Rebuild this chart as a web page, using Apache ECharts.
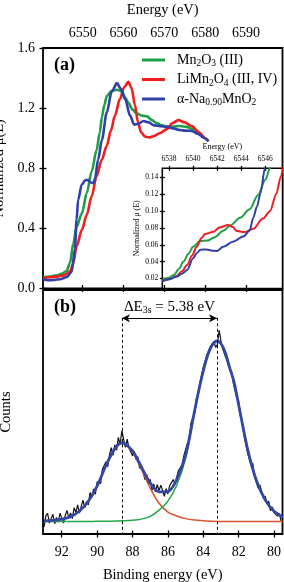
<!DOCTYPE html>
<html><head><meta charset="utf-8">
<script src="https://cdn.jsdelivr.net/npm/echarts@6/dist/echarts.min.js"></script>
<style>html,body{margin:0;padding:0;background:#fff}#c{width:284px;height:582px}</style>
</head><body><div id="c"></div>
<script>
// ---------- tick labels ----------
const xanesTicks = [6550, 6560, 6570, 6580, 6590];
const insetXTicks = [6538, 6540, 6542, 6544, 6546];
const insetYTicks = [0.02, 0.04, 0.06, 0.08, 0.10, 0.12, 0.14];
const bindingTicks = [80, 82, 84, 86, 88, 90, 92];
const seriesNames = ['Mn2O3 (III)', 'LiMn2O4 (III, IV)', 'α-Na0.90MnO2'];
const legendLabels = ['{n|Mn}{s|2}{n|O}{s|3}{n| (III)}', '{n|LiMn}{s|2}{n|O}{s|4}{n| (III, IV)}', '{n|α-Na}{s|0.90}{n|MnO}{s|2}'];

// ---------- (a) XANES, [energy eV, normalized mu(E)] ----------
const mn2o3 = [[6540.3,0.075],[6542,0.08],[6544,0.09],[6545,0.10],[6546,0.115],[6546.9,0.17],[6547.7,0.30],[6548.5,0.41],[6549.8,0.50],[6551.0,0.635],[6552.2,0.78],[6553.4,0.92],[6554.2,1.04],[6554.7,1.14],[6555.3,1.22],[6555.9,1.28],[6557.1,1.315],[6558.5,1.322],[6559.6,1.31],[6560.4,1.27],[6561.2,1.235],[6562.2,1.19],[6563.2,1.165],[6564.5,1.15],[6565.7,1.145],[6567,1.12],[6568.1,1.10],[6569.5,1.085],[6570.6,1.077],[6572,1.078],[6573.8,1.081],[6575.5,1.075],[6577,1.06],[6578.5,1.03],[6580,1.0],[6580.8,0.98]];
const limn2o4 = [[6540.3,0.07],[6542,0.075],[6544,0.08],[6545,0.085],[6546,0.095],[6546.9,0.115],[6547.7,0.168],[6548.5,0.28],[6549.8,0.39],[6551.0,0.49],[6552.2,0.613],[6553.4,0.747],[6554.7,0.858],[6555.9,0.95],[6556.9,1.05],[6557.9,1.15],[6559.1,1.26],[6560.2,1.34],[6561.2,1.375],[6562.0,1.33],[6562.8,1.22],[6563.5,1.11],[6564.3,1.04],[6565.3,1.01],[6566.3,1.005],[6567.5,1.015],[6569,1.035],[6570.6,1.06],[6572,1.10],[6573.4,1.12],[6575,1.105],[6576.7,1.08],[6578.5,1.04],[6580,1.0],[6580.8,0.98]];
const naMnO2 = [[6540.3,0.06],[6541.5,0.055],[6543,0.057],[6544.5,0.062],[6546.1,0.077],[6547.3,0.11],[6548.1,0.26],[6548.5,0.46],[6548.9,0.59],[6549.75,0.69],[6550.6,0.72],[6551.3,0.722],[6552.0,0.705],[6552.6,0.70],[6553.0,0.73],[6553.8,0.86],[6554.7,0.99],[6555.9,1.17],[6557.1,1.31],[6558.4,1.366],[6559.3,1.33],[6560.4,1.26],[6561.6,1.15],[6562.6,1.09],[6563.5,1.095],[6564.9,1.114],[6566.2,1.105],[6567.5,1.085],[6569,1.08],[6570.6,1.075],[6572.2,1.065],[6573.8,1.054],[6575.2,1.05],[6576.7,1.048],[6578.2,1.03],[6579.6,1.003],[6580.8,0.98]];

// ---------- inset pre-edge ----------
const mn2o3Inset = [[6537.45,0.019],[6538.0,0.021],[6538.4,0.024],[6538.8,0.031],[6539.2,0.040],[6539.6,0.049],[6540.0,0.0575],[6540.6,0.0645],[6541.2,0.065],[6541.8,0.069],[6542.5,0.0765],[6543.1,0.083],[6543.9,0.092],[6544.7,0.102],[6545.4,0.119],[6546.0,0.137],[6546.4,0.151],[6546.6,0.16]];
const limn2o4Inset = [[6537.45,0.017],[6538.0,0.019],[6538.6,0.0227],[6539.1,0.029],[6539.5,0.036],[6539.9,0.047],[6540.3,0.0575],[6540.7,0.068],[6541.0,0.0727],[6541.7,0.0755],[6542.2,0.0806],[6542.9,0.0833],[6543.3,0.081],[6543.6,0.0766],[6544.0,0.0755],[6544.3,0.075],[6545.0,0.079],[6545.8,0.091],[6546.4,0.10],[6546.9,0.12],[6547.3,0.141],[6547.5,0.155]];
const naMnO2Inset = [[6537.45,0.017],[6538.0,0.019],[6538.6,0.022],[6539.1,0.026],[6539.5,0.030],[6540.0,0.044],[6540.3,0.050],[6540.6,0.054],[6541.1,0.0545],[6541.6,0.053],[6541.96,0.0525],[6542.5,0.0575],[6543.3,0.0635],[6544.2,0.070],[6544.7,0.077],[6545.0,0.092],[6545.3,0.105],[6545.6,0.121],[6545.97,0.151],[6546.1,0.16]];

// ---------- (b) XPS Mn 3s, [binding energy eV, counts a.u.] ----------
const xpsRaw = [[93.0,2.9],[92.9,7.4],[92.8,8.5],[92.7,4.5],[92.6,5.0],[92.5,8.1],[92.4,4.2],[92.3,6.8],[92.2,4.9],[92.1,8.5],[92.0,6.6],[91.9,4.5],[91.8,7.7],[91.7,9.7],[91.6,6.4],[91.5,8.6],[91.4,6.3],[91.3,10.8],[91.2,8.9],[91.1,11.9],[91.0,8.6],[90.9,11.3],[90.8,13.9],[90.7,10.7],[90.6,13.3],[90.5,11.9],[90.4,17.0],[90.3,15.0],[90.2,18.5],[90.1,16.3],[90.0,21.4],[89.9,20.7],[89.8,20.7],[89.7,26.6],[89.6,26.0],[89.5,29.6],[89.4,27.6],[89.3,32.5],[89.2,35.4],[89.1,32.2],[89.0,36.5],[88.9,34.4],[88.8,39.6],[88.7,36.6],[88.6,42.4],[88.5,38.8],[88.4,35.5],[88.3,38.9],[88.2,35.2],[88.1,36.0],[88.0,32.1],[87.9,33.9],[87.8,30.6],[87.7,31.7],[87.6,27.0],[87.5,28.0],[87.4,25.6],[87.3,22.3],[87.2,24.4],[87.1,20.6],[87.0,22.4],[86.9,17.9],[86.8,20.5],[86.7,17.3],[86.6,20.2],[86.5,17.8],[86.4,20.0],[86.3,17.9],[86.2,15.4],[86.1,18.6],[86.0,16.4],[85.9,19.8],[85.8,19.3],[85.7,22.3],[85.6,20.5],[85.5,23.3],[85.4,26.0],[85.3,25.4],[85.2,28.4],[85.1,32.0],[85.0,31.7],[84.9,37.1],[84.8,38.2],[84.7,45.3],[84.6,47.5],[84.5,49.1],[84.4,55.2],[84.3,56.3],[84.2,61.6],[84.1,62.2],[84.0,68.3],[83.9,68.4],[83.8,73.4],[83.7,73.5],[83.6,76.8],[83.5,76.4],[83.4,78.9],[83.3,76.5],[83.2,77.6],[83.1,83.6],[83.0,79.0],[82.9,75.8],[82.8,75.7],[82.7,71.8],[82.6,71.9],[82.5,67.5],[82.4,66.6],[82.3,61.7],[82.2,61.2],[82.1,55.6],[82.0,54.5],[81.9,48.5],[81.8,46.6],[81.7,40.5],[81.6,40.0],[81.5,33.5],[81.4,32.7],[81.3,28.0],[81.2,29.0],[81.1,23.5],[81.0,23.0],[80.9,18.8],[80.8,20.1],[80.7,17.5],[80.6,14.5],[80.5,15.5],[80.4,12.5],[80.3,13.5],[80.2,9.5],[80.1,11.1],[80.0,8.8],[79.9,9.6],[79.8,7.3],[79.7,8.2],[79.6,5.4]];
const fitLow = [[93,5.4],[92.5,5.6],[92,6.1],[91.5,7.1],[91,9.4],[90.5,13.4],[90,19.5],[89.5,28.0],[89,34.8],[88.6,37.1],[88.5,37.0],[88,33.6],[87.5,26.5],[87,18.8],[86.5,12.6],[86,9.0],[85.5,7.4],[85,6.3],[84.5,5.7],[84,5.4],[83.5,5.25],[83,5.15],[82,5.1],[81,5.1],[80,5.1],[79.5,5.1]];
const fitHigh = [[93,5.1],[92,5.1],[91,5.1],[90.5,5.1],[90,5.2],[89.5,5.2],[89,5.3],[88.5,5.4],[88,5.6],[87.5,6.1],[87,7.2],[86.5,9.8],[86,13.5],[85.5,20],[85,31],[84.5,49.5],[84.25,58.5],[84,66.5],[83.75,73],[83.5,77.3],[83.22,79],[83,78],[82.75,74.2],[82.5,68],[82.25,62],[82,53],[81.5,35],[81,22],[80.5,14],[80,9.3],[79.5,7.0]];
const fitEnvelope = [[93,5.4],[92.5,5.6],[92,6.1],[91.5,7.1],[91,9.4],[90.5,13.4],[90,19.6],[89.5,28.1],[89,35.0],[88.6,37.4],[88.5,37.3],[88,34.1],[87.5,27.5],[87,20.9],[86.5,17.3],[86,17.4],[85.5,22.3],[85,32.2],[84.5,50.1],[84.25,59.0],[84,66.8],[83.75,73.2],[83.5,77.4],[83.22,79.1],[83,78.05],[82.75,74.25],[82.5,68],[82.25,62],[82,53],[81.5,35],[81,22],[80.5,14],[80,9.3],[79.5,7.0]];
const splitPeaks = [88.6, 83.22];

const F = 'Liberation Serif';
const chart = echarts.init(document.getElementById('c'), null, {renderer: 'canvas'});

function frameAxis(extra) {
  return Object.assign({
    type: 'value', axisLine: {show: false}, splitLine: {show: false},
    axisTick: {show: false}, axisLabel: {show: false}
  }, extra);
}
const tickOut = (vals) => ({show: true, inside: false, length: 3.5, lineStyle: {color: '#000', width: 1.3}, customValues: vals});
const tickIn = (vals) => ({show: true, inside: true, length: 3.5, lineStyle: {color: '#000', width: 1.3}, customValues: vals});
const lab = (vals, size, margin, fmt) => ({show: true, customValues: vals, fontFamily: F, fontSize: size, color: '#000', margin: margin, formatter: fmt});
const gridBase = {show: true, borderColor: '#000', containLabel: false, outerBoundsMode: 'none'};

const option = {
  animation: false,
  backgroundColor: '#fff',
  grid: [
    Object.assign({left: 43, top: 48, width: 239.5, height: 240.5, borderWidth: 1.8, backgroundColor: 'transparent'}, gridBase),
    Object.assign({left: 43, top: 290, width: 239.5, height: 244, borderWidth: 1.8, backgroundColor: 'transparent'}, gridBase),
    Object.assign({left: 162.3, top: 168.3, width: 120.2, height: 120.2, borderWidth: 1.5, backgroundColor: '#fff'}, gridBase)
  ],
  xAxis: [
    frameAxis({gridIndex: 0, position: 'top', min: 6540.28, max: 6598.94, axisTick: tickOut(xanesTicks), axisLabel: lab(xanesTicks, 14, 8, v => String(v)),
      name: 'Energy (eV)', nameLocation: 'middle', nameGap: 30, nameTextStyle: {fontFamily: F, fontSize: 14.5, color: '#000'}}),
    frameAxis({gridIndex: 0, position: 'top', min: 6540.28, max: 6598.94, axisTick: tickIn(xanesTicks)}),
    frameAxis({gridIndex: 1, position: 'bottom', inverse: true, min: 79.52, max: 93.06, axisTick: tickOut(bindingTicks), axisLabel: lab(bindingTicks, 14, 11, v => String(v)),
      name: 'Binding energy (eV)', nameLocation: 'middle', nameGap: 33.5, nameTextStyle: {fontFamily: F, fontSize: 14.5, color: '#000'}}),
    frameAxis({gridIndex: 1, position: 'bottom', inverse: true, min: 79.52, max: 93.06, axisTick: tickIn(bindingTicks)}),
    frameAxis({gridIndex: 2, position: 'top', min: 6537.44, max: 6547.43, axisTick: Object.assign(tickOut(insetXTicks), {length: 2.5}), axisLabel: lab(insetXTicks, 7.5, 5, v => String(v)),
      name: 'Energy (eV)', nameLocation: 'middle', nameGap: 17, nameTextStyle: {fontFamily: F, fontSize: 8, color: '#000'}}),
    frameAxis({gridIndex: 2, position: 'top', min: 6537.44, max: 6547.43, axisTick: Object.assign(tickIn(insetXTicks), {length: 2.5})})
  ],
  yAxis: [
    frameAxis({gridIndex: 0, position: 'left', min: 0, max: 1.6, interval: 0.4, axisTick: {show: true, length: 3.5, lineStyle: {color: '#000', width: 1.3}},
      axisLabel: {show: true, fontFamily: F, fontSize: 14, color: '#000', margin: 8, formatter: v => v.toFixed(1)},
      name: 'Normalized μ(E)', nameLocation: 'middle', nameGap: 29, nameTextStyle: {fontFamily: F, fontSize: 14.5, color: '#000'}}),
    frameAxis({gridIndex: 0, position: 'left', min: 0, max: 1.6, interval: 0.4, axisTick: {show: true, inside: true, length: 3.5, lineStyle: {color: '#000', width: 1.3}}}),
    frameAxis({gridIndex: 1, position: 'left', min: 0, max: 100,
      name: 'Counts', nameLocation: 'middle', nameGap: 29, nameTextStyle: {fontFamily: F, fontSize: 14.5, color: '#000'}}),
    frameAxis({gridIndex: 2, position: 'left', min: 0.0081, max: 0.1507, axisTick: Object.assign(tickOut(insetYTicks), {length: 2.5}), axisLabel: lab(insetYTicks, 7.5, 4, v => v.toFixed(2)),
      name: 'Normalized μ (E)', nameLocation: 'middle', nameGap: 18, nameTextStyle: {fontFamily: F, fontSize: 8, color: '#000'}}),
    frameAxis({gridIndex: 2, position: 'left', min: 0.0081, max: 0.1507, axisTick: Object.assign(tickIn(insetYTicks), {length: 2.5})})
  ],
  legend: {
    data: seriesNames, orient: 'vertical', left: 142, top: 53, padding: 0, itemGap: 4,
    itemWidth: 23, itemHeight: 3, icon: 'rect', selectedMode: false,
    formatter: name => legendLabels[seriesNames.indexOf(name)],
    textStyle: {fontFamily: F, fontSize: 14, color: '#000', padding: [0, 0, 0, 7],
      rich: {n: {fontFamily: F, fontSize: 14, color: '#000'}, s: {fontFamily: F, fontSize: 9.5, color: '#000', padding: [7, 0, 0, 0]}}}
  },
  graphic: [
    {type: 'text', left: 54, top: 56, style: {text: '(a)', font: 'bold 18px "Liberation Serif"', fill: '#000'}},
    {type: 'text', left: 54, top: 298, style: {text: '(b)', font: 'bold 18px "Liberation Serif"', fill: '#000'}}
  ],
  series: [
    {name: seriesNames[0], type: 'line', xAxisIndex: 0, yAxisIndex: 0, data: mn2o3, smooth: 0.3, smoothMonotone: 'x', showSymbol: false, color: '#1e9e46', lineStyle: {width: 2.6}},
    {name: seriesNames[1], type: 'line', xAxisIndex: 0, yAxisIndex: 0, data: limn2o4, smooth: 0.3, smoothMonotone: 'x', showSymbol: false, color: '#f01e1e', lineStyle: {width: 2.6}},
    {name: seriesNames[2], type: 'line', xAxisIndex: 0, yAxisIndex: 0, data: naMnO2, smooth: 0.3, smoothMonotone: 'x', showSymbol: false, color: '#3040a8', lineStyle: {width: 2.6}},
    {name: 'inset-mn2o3', type: 'line', xAxisIndex: 4, yAxisIndex: 3, data: mn2o3Inset, smooth: 0.3, smoothMonotone: 'x', showSymbol: false, color: '#1e9e46', lineStyle: {width: 2}},
    {name: 'inset-limn2o4', type: 'line', xAxisIndex: 4, yAxisIndex: 3, data: limn2o4Inset, smooth: 0.3, smoothMonotone: 'x', showSymbol: false, color: '#f01e1e', lineStyle: {width: 2}},
    {name: 'inset-namno2', type: 'line', xAxisIndex: 4, yAxisIndex: 3, data: naMnO2Inset, smooth: 0.3, smoothMonotone: 'x', showSymbol: false, color: '#3040a8', lineStyle: {width: 2}},
    {name: 'raw', type: 'line', xAxisIndex: 2, yAxisIndex: 2, data: xpsRaw, showSymbol: false, color: '#111', lineStyle: {width: 1.2},
      markLine: {silent: true, symbol: 'none', animation: false,
        data: [
          [{coord: [splitPeaks[0], 88.6], lineStyle: {type: [3, 2.5], color: '#000', width: 1}, label: {show: false}}, {coord: [splitPeaks[0], 0]}],
          [{coord: [splitPeaks[1], 88.6], lineStyle: {type: [3, 2.5], color: '#000', width: 1}, label: {show: false}}, {coord: [splitPeaks[1], 0]}],
          [{coord: [splitPeaks[0], 88.4], symbol: 'arrow', symbolSize: [6, 8], lineStyle: {type: 'solid', color: '#000', width: 1},
            label: {show: true, position: 'insideMiddleTop', distance: 3, formatter: '{n|ΔE}{s|3s}{n| = 5.38 eV}',
              rich: {n: {fontFamily: F, fontSize: 15, color: '#000'}, s: {fontFamily: F, fontSize: 10, color: '#000', padding: [7, 0, 0, 0]}}}},
           {coord: [splitPeaks[1], 88.4], symbol: 'arrow', symbolSize: [6, 8]}]
        ]}},
    {name: 'fit-low', type: 'line', xAxisIndex: 2, yAxisIndex: 2, data: fitLow, smooth: 0.3, showSymbol: false, color: '#d8542c', lineStyle: {width: 1.5}},
    {name: 'fit-high', type: 'line', xAxisIndex: 2, yAxisIndex: 2, data: fitHigh, smooth: 0.3, showSymbol: false, color: '#24a84a', lineStyle: {width: 1.5}},
    {name: 'fit-sum', type: 'line', xAxisIndex: 2, yAxisIndex: 2, data: fitEnvelope, smooth: 0.3, showSymbol: false, color: '#3446a6', lineStyle: {width: 2.8}}
  ]
};
chart.setOption(option);
</script></body></html>
